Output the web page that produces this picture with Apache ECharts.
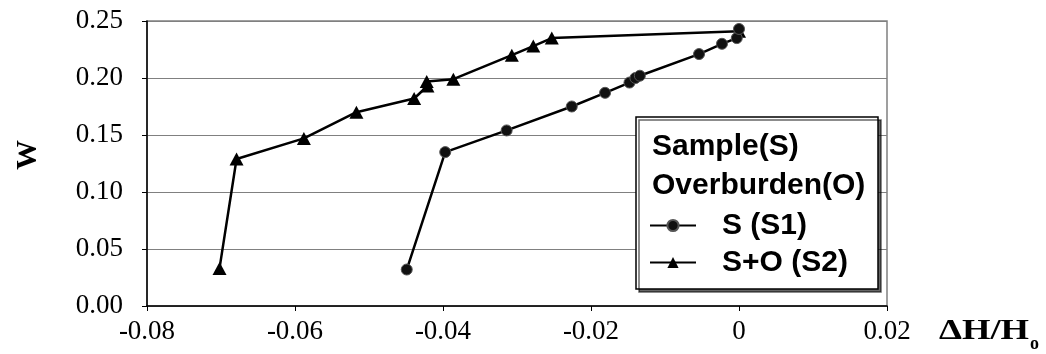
<!DOCTYPE html>
<html>
<head>
<meta charset="utf-8">
<script src="https://cdn.jsdelivr.net/npm/echarts@6/dist/echarts.min.js"></script>
<style>html,body{margin:0;padding:0;background:#fff}#c{width:1046px;height:354px}</style>
</head>
<body>
<div id="c"></div>
<script>
// Data
const s1Name = 'S (S1)';
const s1X = [-0.0449, -0.0397, -0.0314, -0.0226, -0.0181, -0.0148, -0.0140, -0.0134, -0.0054, -0.0023, -0.0003, 0.0000];
const s1Y = [0.032, 0.135, 0.154, 0.175, 0.187, 0.196, 0.200, 0.202, 0.221, 0.230, 0.235, 0.243];
const s2Name = 'S+O (S2)';
const s2X = [-0.0702, -0.0679, -0.0588, -0.0517, -0.0439, -0.0421, -0.0422, -0.0386, -0.0307, -0.0278, -0.0253, 0.0000];
const s2Y = [0.033, 0.129, 0.147, 0.170, 0.182, 0.193, 0.197, 0.199, 0.220, 0.228, 0.235, 0.241];
const xTickLabels = {'-0.08': '-0.08', '-0.06': '-0.06', '-0.04': '-0.04', '-0.02': '-0.02', '0': '0', '0.02': '0.02'};
const legendTitle = ['Sample(S)', 'Overburden(O)'];
const yAxisTitle = 'W';
const xAxisTitleMain = 'ΔH/H';
const xAxisTitleSub = 'o';

const pairs = (xs, ys) => xs.map((x, i) => [x, ys[i]]);
const serif = '"Liberation Serif", "Times New Roman", serif';
const sans = '"Liberation Sans", Arial, sans-serif';

const chart = echarts.init(document.getElementById('c'), null, {renderer: 'canvas'});
chart.setOption({
  animation: false,
  backgroundColor: '#fff',
  grid: {left: 147, right: 159, top: 21, bottom: 48, show: true, borderColor: '#808080', borderWidth: 1.5, backgroundColor: 'transparent'},
  xAxis: {
    type: 'value', min: -0.08, max: 0.02, interval: 0.02,
    axisLine: {show: true, onZero: false, lineStyle: {color: '#000', width: 1.5}},
    axisTick: {show: true, length: 5, lineStyle: {color: '#000'}},
    splitLine: {show: false},
    axisLabel: {
      margin: 12, color: '#000', fontFamily: serif, fontSize: 27,
      formatter: v => { const k = String(Math.round(v * 100) / 100); return xTickLabels[k] !== undefined ? xTickLabels[k] : k; }
    }
  },
  yAxis: {
    type: 'value', min: 0, max: 0.25, interval: 0.05,
    axisLine: {show: true, onZero: false, lineStyle: {color: '#000', width: 1.5}},
    axisTick: {show: true, length: 5, lineStyle: {color: '#000'}},
    splitLine: {show: true, lineStyle: {color: '#808080', width: 1.2}},
    axisLabel: {margin: 24, color: '#000', fontFamily: serif, fontSize: 27, formatter: v => v.toFixed(2)}
  },
  legend: {
    orient: 'vertical', left: 644, top: 205, z: 10,
    itemWidth: 46, itemHeight: 14, itemGap: 6,
    data: [s1Name, s2Name],
    textStyle: {fontFamily: sans, fontWeight: 'bold', fontSize: 30, color: '#000', lineHeight: 31, padding: [0, 0, 0, 21]}
  },
  graphic: [
    {type: 'rect', z: 3, shape: {x: 636, y: 117, width: 242, height: 172},
     style: {fill: '#fff', stroke: '#000', lineWidth: 1.5, shadowColor: 'rgba(0,0,0,0.6)', shadowOffsetX: 3, shadowOffsetY: 3, shadowBlur: 0}},
    {type: 'text', z: 10, x: 652, y: 147,
     style: {text: legendTitle[0], fontFamily: sans, fontWeight: 'bold', fontSize: 30, fill: '#000', verticalAlign: 'middle', align: 'left'}},
    {type: 'text', z: 10, x: 652, y: 186,
     style: {text: legendTitle[1], fontFamily: sans, fontWeight: 'bold', fontSize: 30, fill: '#000', verticalAlign: 'middle', align: 'left'}},
    {type: 'text', z: 10, x: 28, y: 155, rotation: Math.PI / 2,
     style: {text: yAxisTitle, fontFamily: serif, fontWeight: 'bold', fontSize: 30, fill: '#000', verticalAlign: 'middle', align: 'center'}},
    {type: 'text', z: 10, x: 939, y: 331, scaleX: 1.22,
     style: {text: xAxisTitleMain, fontFamily: serif, fontWeight: 'bold', fontSize: 30, fill: '#000', verticalAlign: 'middle', align: 'left'}},
    {type: 'text', z: 10, x: 1030, y: 344,
     style: {text: xAxisTitleSub, fontFamily: serif, fontWeight: 'bold', fontSize: 18, fill: '#000', verticalAlign: 'middle', align: 'left'}}
  ],
  series: [
    {name: s1Name, type: 'line', z: 4, data: pairs(s1X, s1Y), symbol: 'circle', symbolSize: 11,
     lineStyle: {color: '#000', width: 2.5}, itemStyle: {color: '#111', borderColor: '#555', borderWidth: 1}},
    {name: s2Name, type: 'line', z: 2, data: pairs(s2X, s2Y), symbol: 'triangle', symbolSize: [14, 13],
     lineStyle: {color: '#000', width: 2.5}, itemStyle: {color: '#000', borderColor: '#000', borderWidth: 0}}
  ]
});
</script>
</body>
</html>
